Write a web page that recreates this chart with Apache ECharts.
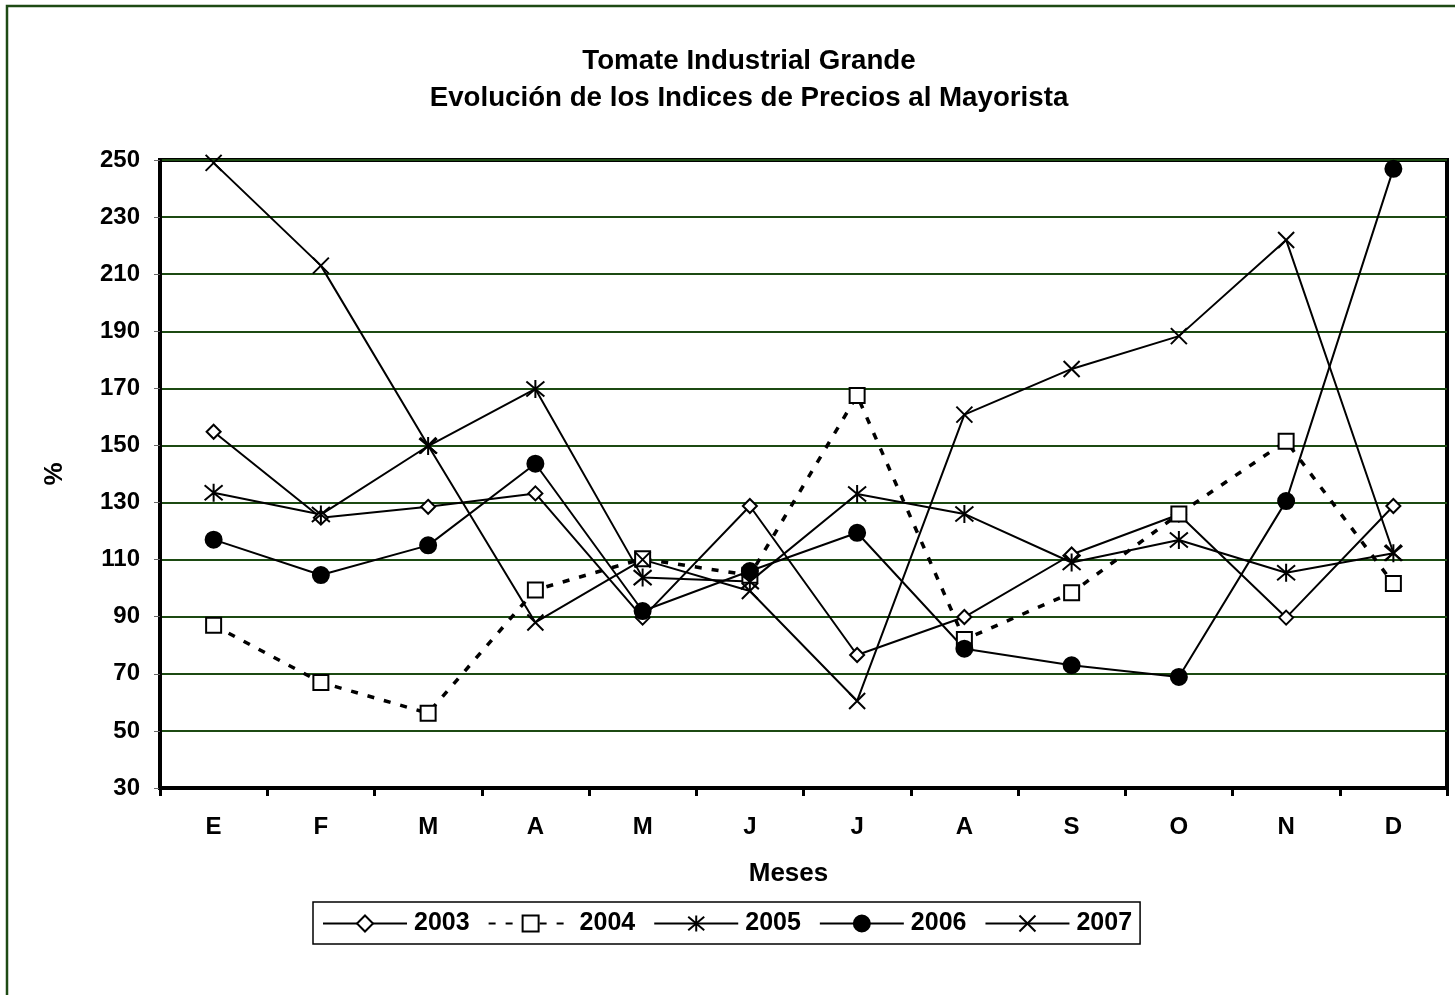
<!DOCTYPE html>
<html>
<head>
<meta charset="utf-8">
<title>Tomate Industrial Grande</title>
<script src="https://cdn.jsdelivr.net/npm/echarts@6/dist/echarts.min.js"></script>
<style>
  html, body { margin: 0; padding: 0; background: #fff; }
  #chart { width: 1455px; height: 995px; }
</style>
</head>
<body>
<div id="chart"></div>
<script>
// meses (E..D)
var meses = ["E", "F", "M", "A", "M", "J", "J", "A", "S", "O", "N", "D"];
var yTicks = { min: 30, max: 250, step: 20 };

var y2003 = [154.8, 124.7, 128.5, 133.2, 89.7, 128.8, 76.6, 89.9, 111.8, 125.8, 89.7, 128.8];
var y2004 = [87, 67, 56.2, 99.4, 110.3, 104.5, 167.5, 82, 98.4, 126, 151.5, 101.6];
var y2005 = [133.4, 125.8, 149.8, 169.8, 103.7, 102.3, 133, 126, 109, 116.9, 105.4, 112.2];
var y2006 = [117, 104.6, 115, 143.6, 92, 106, 119.4, 78.8, 73, 68.9, 130.5, 246.9];
var y2007 = [249, 213, 150, 88, 110, 99, 60.5, 160.8, 176.8, 188.3, 222, 112.4];

var FONT = "Liberation Sans, Arial, sans-serif";
var GRID_GREEN = "#1c4a12";

// marcadores tipo excel (asterisco y cruz)
var starPath = "path://M0,0L10,10M10,0L0,10M5,-1L5,11";
var crossPath = "path://M0,0L10,10M10,0L0,10";

function serie(name, data, symbol, size, fill, dashed) {
  return {
    name: name,
    type: "line",
    data: data,
    symbol: symbol,
    symbolSize: size,
    showAllSymbol: true,
    z: 3,
    lineStyle: {
      color: "#000",
      width: dashed ? 3.5 : 2,
      type: dashed ? [7, 10] : "solid",
    },
    itemStyle: {
      color: fill,
      borderColor: "#000",
      borderWidth: 2,
    },
    emphasis: { disabled: true },
  };
}

var chart = echarts.init(document.getElementById("chart"));

chart.setOption({
  backgroundColor: "#fff",
  animation: false,
  textStyle: { fontFamily: FONT },
  title: {
    text: "Tomate Industrial Grande\nEvolución de los Indices de Precios al Mayorista",
    left: 744,
    top: 38,
    textAlign: "center",
    textStyle: {
      fontFamily: FONT,
      fontSize: 27.7,
      fontWeight: "bold",
      color: "#000",
      lineHeight: 37,
    },
  },
  graphic: [
    {
      type: "rect",
      shape: { x: 7, y: 6, width: 1600, height: 1200 },
      style: { fill: "none", stroke: "#1e4a14", lineWidth: 2.5 },
      silent: true,
    },
  ],
  grid: {
    left: 160,
    top: 160,
    right: 8,
    bottom: 207,
    show: true,
    borderColor: "#000",
    borderWidth: 4,
    backgroundColor: "transparent",
    containLabel: false,
  },
  legend: {
    left: 313,
    top: 902,
    padding: [9, 8, 8, 9],
    borderColor: "#000",
    borderWidth: 1.5,
    itemWidth: 84,
    itemHeight: 20,
    itemGap: 18,
    textStyle: {
      fontFamily: FONT,
      fontSize: 25,
      fontWeight: "bold",
      color: "#000",
      padding: [0, 0, 0, 2],
    },
    data: ["2003", "2004", "2005", "2006", "2007"],
  },
  xAxis: {
    type: "category",
    data: meses,
    boundaryGap: true,
    name: "Meses",
    nameLocation: "middle",
    nameGap: 73,
    nameTextStyle: {
      fontFamily: FONT,
      fontSize: 26,
      fontWeight: "bold",
      color: "#000",
      padding: [0, 30, 0, 0],
    },
    axisLine: { lineStyle: { color: "#000", width: 4 } },
    axisTick: {
      show: true,
      length: 8,
      lineStyle: { color: "#000", width: 3 },
    },
    axisLabel: {
      margin: 27,
      fontFamily: FONT,
      fontSize: 24,
      fontWeight: "bold",
      color: "#000",
    },
    splitLine: { show: false },
  },
  yAxis: {
    type: "value",
    min: yTicks.min,
    max: yTicks.max,
    interval: yTicks.step,
    name: "%",
    nameLocation: "middle",
    nameGap: 92,
    nameRotate: 90,
    nameTextStyle: {
      fontFamily: FONT,
      fontSize: 26,
      fontWeight: "bold",
      color: "#000",
    },
    axisLine: { show: true, lineStyle: { color: "#000", width: 4 } },
    axisTick: {
      show: true,
      length: 6,
      lineStyle: { color: "#666", width: 1 },
    },
    axisLabel: {
      margin: 20,
      fontFamily: FONT,
      fontSize: 24,
      fontWeight: "bold",
      color: "#000",
    },
    splitLine: {
      show: true,
      lineStyle: { color: GRID_GREEN, width: 2 },
    },
  },
  series: [
    serie("2003", y2003, "diamond", 14, "#fff", false),
    serie("2004", y2004, "rect", 15, "#fff", true),
    serie("2005", y2005, starPath, 18, "#000", false),
    serie("2006", y2006, "circle", 16, "#000", false),
    serie("2007", y2007, crossPath, 16, "#000", false),
  ],
});
</script>
</body>
</html>
